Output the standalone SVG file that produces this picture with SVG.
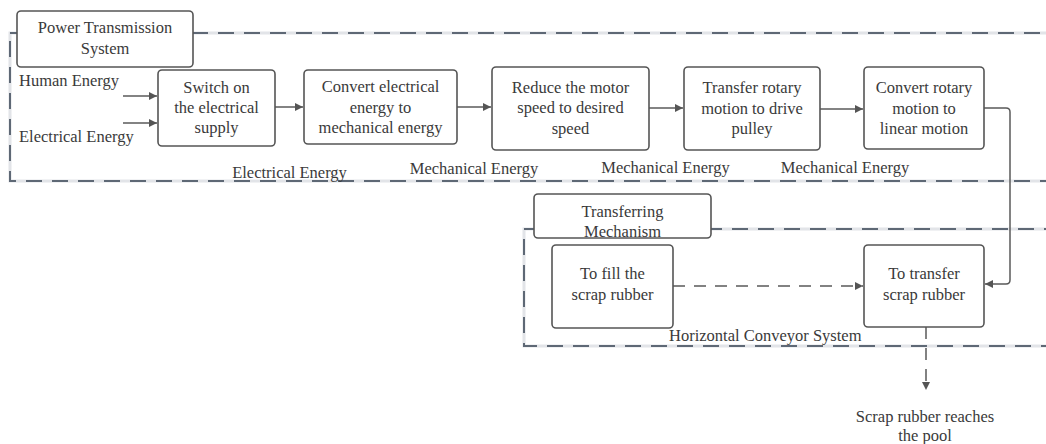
<svg xmlns="http://www.w3.org/2000/svg" width="1046" height="444" viewBox="0 0 1046 444">
<style>
text{font-family:"Liberation Serif","Times New Roman",serif;font-size:16.5px;fill:#3a3a3a;text-anchor:middle;dominant-baseline:central}
.l{text-anchor:start}
.box{fill:#fff;stroke:#555;stroke-width:1.6}
.cont-bg{fill:none;stroke:#e2e4e8;stroke-width:3}
.cont{fill:none;stroke:#5e6875;stroke-width:2;stroke-dasharray:16 10}
.c{fill:none;stroke:#5a5a5a;stroke-width:1.5}
.d{stroke-dasharray:12 9}
</style>
<defs>
<marker id="ah" viewBox="0 0 10 10" refX="10" refY="5" markerWidth="10" markerHeight="8" markerUnits="userSpaceOnUse" orient="auto">
<path d="M0,0 L10,5 L0,10 z" fill="#555"/>
</marker>
</defs>

<g id="power-container">
<rect class="cont-bg" x="10" y="33" width="1060" height="148"/>
<rect class="cont" x="10" y="33" width="1060" height="148"/>
</g>
<g id="transfer-container">
<rect class="cont-bg" x="524" y="229" width="546" height="117"/>
<rect class="cont" x="524" y="229" width="546" height="117"/>
</g>

<g id="connectors">
<line class="c" x1="123" y1="96" x2="157" y2="96" marker-end="url(#ah)"/>
<line class="c" x1="123" y1="123" x2="157" y2="123" marker-end="url(#ah)"/>
<line class="c" x1="275" y1="107" x2="303" y2="107" marker-end="url(#ah)"/>
<line class="c" x1="457" y1="107" x2="491" y2="107" marker-end="url(#ah)"/>
<line class="c" x1="649" y1="108" x2="683" y2="108" marker-end="url(#ah)"/>
<line class="c" x1="820" y1="109" x2="863" y2="109" marker-end="url(#ah)"/>
<path class="c" d="M984,108 H1006 Q1010,108 1010,112 V280 Q1010,284 1006,284 H985" marker-end="url(#ah)"/>
<line class="c d" x1="673" y1="286" x2="863" y2="286" marker-end="url(#ah)"/>
<line class="c d" x1="926" y1="327" x2="926" y2="390" marker-end="url(#ah)"/>
</g>

<g id="power-label">
<rect class="box" x="17" y="11" width="176" height="56" rx="4"/>
<text x="105" y="27">Power Transmission</text>
<text x="105" y="48">System</text>
</g>
<g id="input-labels">
<text class="l" x="19" y="80">Human Energy</text>
<text class="l" x="19" y="136">Electrical Energy</text>
</g>
<g id="switch">
<rect class="box" x="158" y="70" width="117" height="76" rx="4"/>
<text x="216.5" y="87">Switch on</text>
<text x="216.5" y="107">the electrical</text>
<text x="216.5" y="127">supply</text>
</g>
<g id="convert-electrical">
<rect class="box" x="304" y="70" width="153" height="74" rx="4"/>
<text x="380.5" y="86">Convert electrical</text>
<text x="380.5" y="107">energy to</text>
<text x="380.5" y="127">mechanical energy</text>
</g>
<g id="reduce">
<rect class="box" x="492" y="67" width="157" height="83" rx="4"/>
<text x="570.5" y="87">Reduce the motor</text>
<text x="570.5" y="107">speed to desired</text>
<text x="570.5" y="128">speed</text>
</g>
<g id="transfer-rotary">
<rect class="box" x="684" y="67" width="136" height="83" rx="4"/>
<text x="752" y="87">Transfer rotary</text>
<text x="752" y="108">motion to drive</text>
<text x="752" y="128">pulley</text>
</g>
<g id="convert-rotary">
<rect class="box" x="864" y="67" width="120" height="82" rx="4"/>
<text x="924" y="87">Convert rotary</text>
<text x="924" y="108">motion to</text>
<text x="924" y="128">linear motion</text>
</g>
<g id="energy-labels">
<text x="289.5" y="172">Electrical Energy</text>
<text x="474" y="168">Mechanical Energy</text>
<text x="665.5" y="167">Mechanical Energy</text>
<text x="845" y="167">Mechanical Energy</text>
</g>
<g id="transferring-label">
<rect class="box" x="534" y="194" width="177" height="44" rx="4"/>
<text x="622.5" y="211">Transferring</text>
<text x="622.5" y="231">Mechanism</text>
</g>
<g id="fill">
<rect class="box" x="552" y="245" width="121" height="83" rx="4"/>
<text x="612.5" y="273">To fill the</text>
<text x="612.5" y="294">scrap rubber</text>
</g>
<g id="transfer-scrap">
<rect class="box" x="864" y="245" width="120" height="82" rx="4"/>
<text x="924" y="273">To transfer</text>
<text x="924" y="294">scrap rubber</text>
</g>
<g id="conveyor-label">
<text class="l" x="669" y="335">Horizontal Conveyor System</text>
</g>
<g id="pool">
<text x="925" y="416">Scrap rubber reaches</text>
<text x="925" y="435">the pool</text>
</g>
</svg>
